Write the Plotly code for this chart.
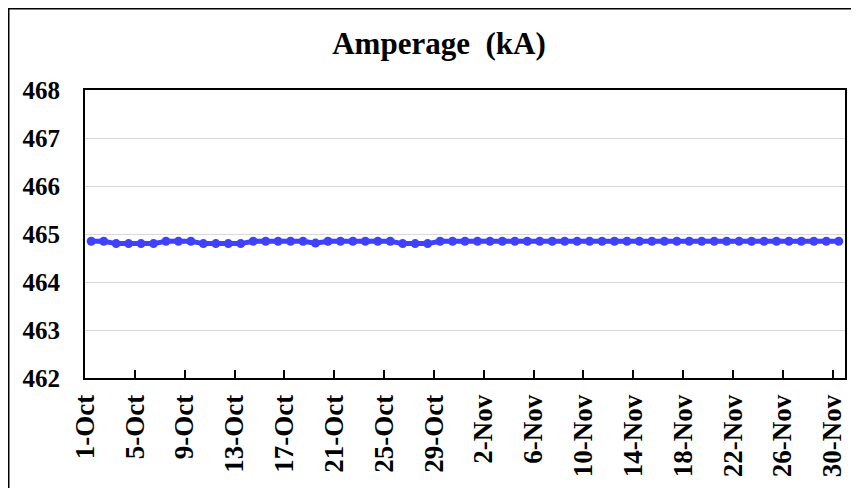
import datetime as dt
import plotly.graph_objects as go

# ---- data ----
start = dt.date(2023, 10, 1)
days = [start + dt.timedelta(days=i) for i in range(61)]   # 1-Oct .. 30-Nov
amperage = [
    464.85, 464.85, 464.80, 464.80, 464.80, 464.80, 464.85, 464.85, 464.85, 464.80,
    464.80, 464.80, 464.80, 464.85, 464.85, 464.85, 464.85, 464.85, 464.81, 464.85,
    464.85, 464.85, 464.85, 464.85, 464.85, 464.80, 464.80, 464.80, 464.85, 464.85,
    464.85, 464.85, 464.85, 464.85, 464.85, 464.85, 464.85, 464.85, 464.85, 464.85,
    464.85, 464.85, 464.85, 464.85, 464.85, 464.85, 464.85, 464.85, 464.85, 464.85,
    464.85, 464.85, 464.85, 464.85, 464.85, 464.85, 464.85, 464.85, 464.85, 464.85,
    464.85,
]
tick_labels = ["1-Oct", "5-Oct", "9-Oct", "13-Oct", "17-Oct", "21-Oct", "25-Oct", "29-Oct",
               "2-Nov", "6-Nov", "10-Nov", "14-Nov", "18-Nov", "22-Nov", "26-Nov", "30-Nov"]
tick_dates = [days[i] for i in range(0, 61, 4)]
y_ticks = [462, 463, 464, 465, 466, 467, 468]
title_text = "Amperage  (kA)"

# points sit in the middle of each day
x_vals = [dt.datetime.combine(d, dt.time(12)) for d in days]

# the page body adds an 8px margin, so the figure is sized to fit inside the window
W, H = 851, 480
L, R, T, B = 77, 14, 82, 110
pw, ph = W - L - R, H - T - B

fig = go.Figure()
fig.add_trace(go.Scatter(
    x=x_vals, y=amperage, mode="lines+markers",
    line=dict(color="#4040FF", width=5),
    marker=dict(color="#4040FF", size=9),
    showlegend=False, cliponaxis=False,
))

font = dict(family="Liberation Serif, Times New Roman, serif", color="black", weight="bold")

fig.update_layout(
    width=W, height=H,
    margin=dict(l=L, r=R, t=T, b=B, autoexpand=False),
    paper_bgcolor="white", plot_bgcolor="white",
    title=dict(text=title_text, x=431 / W, xanchor="center", xref="container",
               y=1 - 35 / H, yanchor="middle", yref="container",
               font=dict(size=31, **font), automargin=False),
    xaxis=dict(
        type="date", automargin=False,
        range=[dt.datetime.combine(start, dt.time(0)), dt.datetime(2023, 12, 1)],
        tickvals=[dt.datetime.combine(d, dt.time(0)) for d in tick_dates],
        ticktext=tick_labels,
        tickangle=-90,
        ticks="inside", ticklen=8, tickwidth=2, tickcolor="black",
        showline=True, linecolor="black", linewidth=2, mirror=True,
        showgrid=False, zeroline=False,
        tickfont=dict(size=27, **font),
        ticklabelstandoff=4,
    ),
    yaxis=dict(
        range=[462, 468], automargin=False,
        tickvals=y_ticks,
        ticks="",
        showline=True, linecolor="black", linewidth=2, mirror=True,
        showgrid=True, gridcolor="#D9D9D9", gridwidth=1,
        zeroline=False,
        tickfont=dict(size=25, **font),
        ticklabelstandoff=18,
    ),
    shapes=[dict(
        type="rect", xref="paper", yref="paper",
        x0=(0.5 - L) / pw, x1=(880 - L) / pw,
        y0=(H - B - 500) / ph, y1=(H - B - 0.5) / ph,
        line=dict(color="black", width=2), fillcolor="rgba(0,0,0,0)", layer="above",
    )],
)

fig.write_html("out.html")
